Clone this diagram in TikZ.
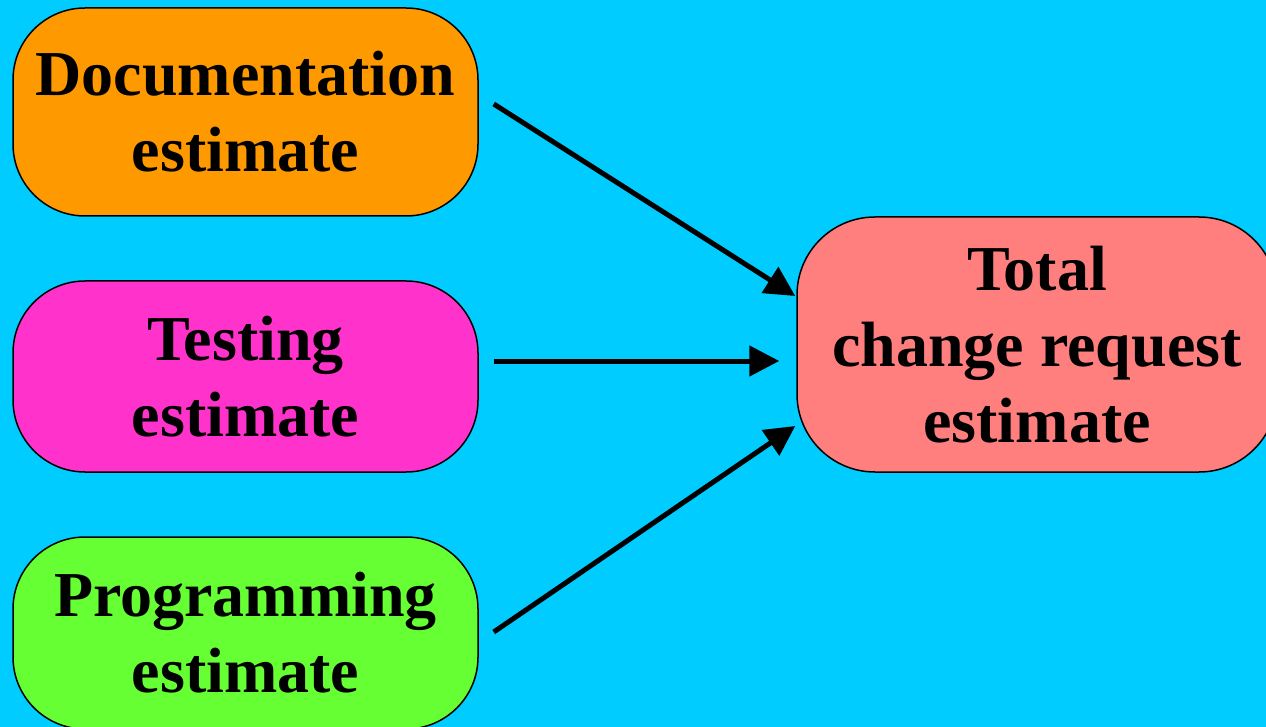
\documentclass[tikz,border=0pt]{standalone}
\usepackage{fontspec}
\setmainfont{Liberation Serif}
\usetikzlibrary{arrows.meta}
\definecolor{bgcyan}{HTML}{00CCFF}
\definecolor{docorange}{HTML}{FF9900}
\definecolor{testpink}{HTML}{FF33CC}
\definecolor{proggreen}{HTML}{66FF33}
\definecolor{totalsalmon}{HTML}{FF7F7F}
\tikzset{
  estbox/.style={draw=black, line width=1.5pt, rounded corners=72pt,
    minimum width=465pt, align=center, inner sep=0pt,
    font=\fontsize{64}{76}\selectfont\bfseries},
  arr/.style={line width=5pt, -{Triangle[length=30pt,width=30pt]}}
}
\begin{document}
\begin{tikzpicture}[x=1pt,y=-1pt]
  \useasboundingbox (0,0) rectangle (1266,727);
  \clip (0,0) rectangle (1266,727);
  \fill[bgcyan] (0,0) rectangle (1266,727);

  \node[estbox, fill=docorange, minimum height=208pt] (doc) at (245.5,112)
    {Documentation\\estimate};
  \node[estbox, fill=testpink, minimum height=191pt] (tst) at (245.5,376.5)
    {Testing\\estimate};
  \node[estbox, fill=proggreen, minimum height=192pt] (prg) at (245.5,633)
    {Programming\\estimate};
  \node[estbox, fill=totalsalmon, minimum width=480pt, minimum height=255pt,
        rounded corners=78pt] (tot) at (1037,344.5)
    {Total\\change request\\estimate};

  \draw[arr] ([xshift=15pt,yshift=8pt]doc.east) -- ([xshift=-1pt,yshift=48.5pt]tot.west);
  \draw[arr] ([xshift=15pt,yshift=15.5pt]tst.east) -- ([xshift=-17pt,yshift=-16.5pt]tot.west);
  \draw[arr] ([xshift=15pt,yshift=1pt]prg.east) -- ([xshift=-1pt,yshift=-81.5pt]tot.west);
\end{tikzpicture}
\end{document}
